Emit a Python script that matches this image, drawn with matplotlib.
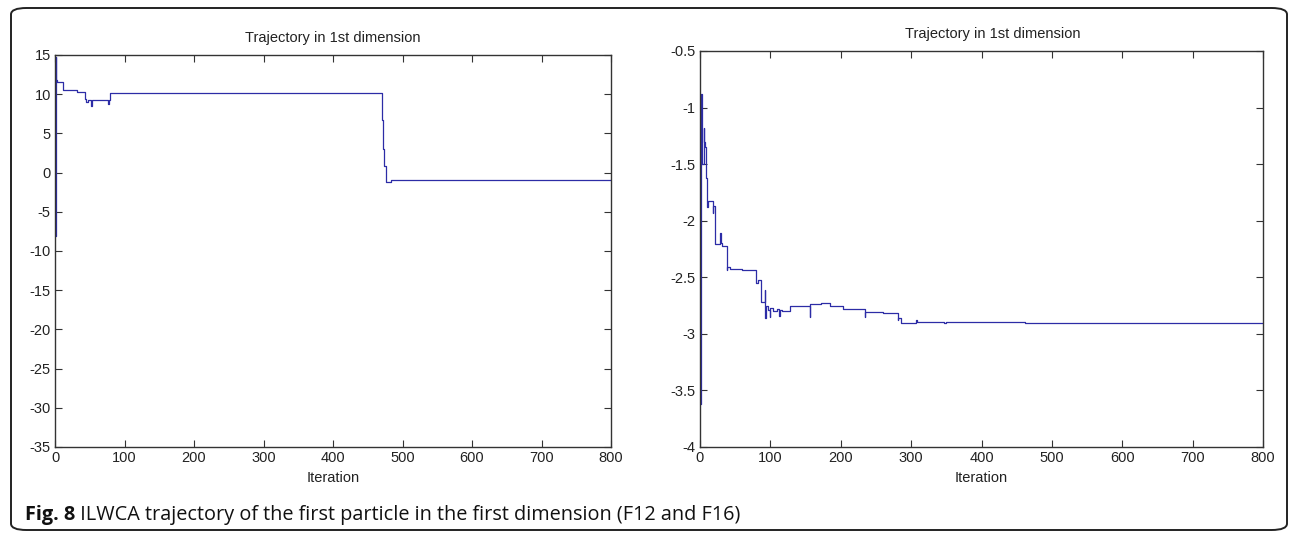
import matplotlib
matplotlib.use("Agg")
import matplotlib.pyplot as plt
from matplotlib.patches import FancyBboxPatch

# F12 trajectory (left panel): iteration where value changes, new value
iters_f12 = [0, 1, 2, 3, 12, 32, 43, 45, 47, 52, 53, 76, 77, 79,
             471, 472, 474, 476, 484, 800]
vals_f12 = [-8.1, 14.8, 11.8, 11.6, 10.5, 10.3, 9.4, 9.0, 9.3, 8.5, 9.2, 8.8, 9.2, 10.2,
            6.7, 3.0, 0.9, -1.2, -0.9, -0.9]

# F16 trajectory (right panel)
iters_f16 = [0, 1, 2, 3, 5, 6, 7, 9, 10, 12, 18, 19, 21, 22, 29, 30, 31,
             38, 39, 42, 60, 80, 82, 87, 92, 93, 94, 96, 99, 100, 104, 110,
             112, 113, 116, 128, 156, 157, 161, 172, 185, 203, 234, 235, 260,
             281, 282, 286, 307, 309, 347, 349, 460, 462, 800]
vals_f16 = [-3.62, -2.23, -0.88, -1.5, -1.18, -1.3, -1.35, -1.62, -1.88, -1.83,
            -1.93, -1.87, -2.16, -2.21, -2.11, -2.2, -2.22,
            -2.44, -2.41, -2.43, -2.44, -2.55, -2.52, -2.72, -2.61, -2.86, -2.75,
            -2.79, -2.85, -2.77, -2.8, -2.78,
            -2.84, -2.79, -2.8, -2.755, -2.85, -2.74, -2.74, -2.73, -2.75, -2.78,
            -2.85, -2.81, -2.82,
            -2.88, -2.86, -2.9, -2.88, -2.895, -2.905, -2.895, -2.895, -2.9, -2.9]

x_ticks = [0, 100, 200, 300, 400, 500, 600, 700, 800]
y_ticks_f12 = [-35, -30, -25, -20, -15, -10, -5, 0, 5, 10, 15]
y_ticks_f16 = [-4, -3.5, -3, -2.5, -2, -1.5, -1, -0.5]
y_labels_f16 = ["-4", "-3.5", "-3", "-2.5", "-2", "-1.5", "-1", "-0.5"]

title = "Trajectory in 1st dimension"
caption_bold = "Fig. 8"
caption_rest = " ILWCA trajectory of the first particle in the first dimension (F12 and F16)"

line_col = "#2c2ca6"
axis_col = "#333333"
txt_col = "#222222"
tick_font = ["Liberation Sans", "DejaVu Sans"]
cap_font = ["Open Sans", "DejaVu Sans"]

W, H = 1290, 534
fig = plt.figure(figsize=(W / 100, H / 100), dpi=100)

# rounded frame around the whole figure
frame = FancyBboxPatch((11 / W, 4 / H), 1276 / W, 522 / H,
                       boxstyle="round,pad=0,rounding_size=0.012",
                       transform=fig.transFigure, fill=False,
                       edgecolor="#222222", linewidth=1.4)
fig.patches.append(frame)

def style_axes(ax, yticks, ylim, ytick_labels):
    ax.set_xlim(0, 800)
    ax.set_ylim(*ylim)
    ax.set_xticks(x_ticks)
    ax.set_xticklabels([str(t) for t in x_ticks])
    ax.set_yticks(yticks)
    ax.set_yticklabels(ytick_labels)
    ax.tick_params(direction="in", length=5, width=0.8, color=axis_col,
                   top=True, right=True, labelsize=10.5, pad=3)
    for lab in ax.get_xticklabels() + ax.get_yticklabels():
        lab.set_family(tick_font)
        lab.set_color(txt_col)
    for s in ax.spines.values():
        s.set_color(axis_col)
        s.set_linewidth(1.0)
    ax.set_xlabel("Iteration", family=tick_font, fontsize=10.5, labelpad=4, color=txt_col)

ax1 = fig.add_axes([55 / W, (H - 447) / H, 556 / W, 392 / H])
ax1.plot(iters_f12, vals_f12, drawstyle="steps-post", color=line_col, linewidth=0.9)
style_axes(ax1, y_ticks_f12, (-35, 15), [str(t) for t in y_ticks_f12])
ax1.set_title(title, family=tick_font, fontsize=10.5, pad=9, color=txt_col)

ax2 = fig.add_axes([700 / W, (H - 447) / H, 563 / W, 396 / H])
ax2.plot(iters_f16, vals_f16, drawstyle="steps-post", color=line_col, linewidth=0.9)
style_axes(ax2, y_ticks_f16, (-4, -0.5), y_labels_f16)
ax2.set_title(title, family=tick_font, fontsize=10.5, pad=9, color=txt_col, x=0.52)

# caption
t1 = fig.text(25 / W, (H - 515) / H, caption_bold, family=cap_font,
              fontweight="bold", fontsize=14.3, va="center", ha="left", color="#111111")
fig.canvas.draw()
bb = t1.get_window_extent()
fig.text(bb.x1 / W, (H - 515) / H, caption_rest, family=cap_font,
         fontsize=14.3, va="center", ha="left", color="#111111")

fig.savefig("out.png", dpi=100)
